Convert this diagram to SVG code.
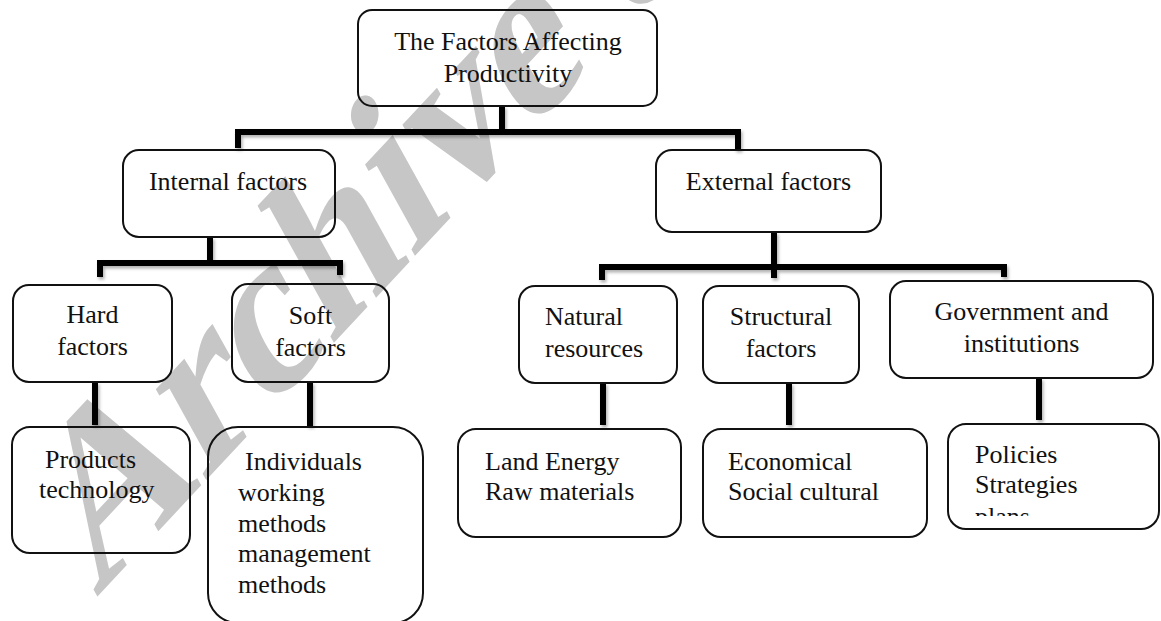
<svg xmlns="http://www.w3.org/2000/svg" width="1161" height="621" viewBox="0 0 1161 621">
<style>
.box{fill:none;stroke:#111;stroke-width:2}
.t{font-size:26px;fill:#111}
.c{text-anchor:middle}
.con{fill:none;stroke:#000;stroke-width:6;stroke-linecap:butt;stroke-linejoin:miter}
.wm{font-weight:bold;font-size:215px;fill:#c6c6c6}
</style>
<defs>
<filter id="sh" filterUnits="userSpaceOnUse" x="0" y="0" width="1161" height="621">
<feDropShadow dx="1.5" dy="2.5" stdDeviation="1.5" flood-color="#000" flood-opacity="0.3"/>
</filter>
<clipPath id="clipPol"><rect x="948" y="424" width="213" height="92"/></clipPath>
</defs>
<rect width="1161" height="621" fill="#fff"/>
<g font-family="Liberation Serif, Times New Roman, serif">
<text class="wm" transform="translate(96,598) rotate(-47) skewX(-18)" textLength="960" lengthAdjust="spacingAndGlyphs">Archive of</text>
<g id="connectors" filter="url(#sh)">
<path class="con" d="M502,106 V132 M238,148 V132 H738 V150"/>
<path class="con" d="M210,237 V263 M100,277 V263 H340 V275"/>
<path class="con" d="M774,232 V278 M602,280 V267 H1004 V277"/>
<path class="con" d="M95,382 V425"/>
<path class="con" d="M310,382 V426"/>
<path class="con" d="M603,383 V425"/>
<path class="con" d="M789,383 V425"/>
<path class="con" d="M1039,378 V420"/>
</g>
<g id="root">
<rect class="box" x="358" y="10" width="299" height="96" rx="14"/>
<text class="t c" x="508" y="50">The Factors Affecting</text>
<text class="t c" x="508" y="82">Productivity</text>
</g>
<g id="internal">
<rect class="box" x="123" y="150" width="212" height="87" rx="16"/>
<text class="t c" x="228" y="190">Internal factors</text>
</g>
<g id="external">
<rect class="box" x="656" y="150" width="225" height="82" rx="16"/>
<text class="t c" x="768.5" y="190">External factors</text>
</g>
<g id="hard">
<rect class="box" x="13" y="285" width="159" height="97" rx="16"/>
<text class="t c" x="92.5" y="323">Hard</text>
<text class="t c" x="92.5" y="355">factors</text>
</g>
<g id="soft">
<rect class="box" x="232" y="284" width="157" height="98" rx="16"/>
<text class="t c" x="310.5" y="324">Soft</text>
<text class="t c" x="310.5" y="356">factors</text>
</g>
<g id="natural">
<rect class="box" x="519" y="286" width="158" height="97" rx="16"/>
<text class="t" x="545" y="325">Natural</text>
<text class="t" x="545" y="357">resources</text>
</g>
<g id="structural">
<rect class="box" x="703" y="286" width="156" height="97" rx="16"/>
<text class="t c" x="781" y="325">Structural</text>
<text class="t c" x="781" y="357">factors</text>
</g>
<g id="government">
<rect class="box" x="890" y="281" width="263" height="97" rx="16"/>
<text class="t c" x="1021.5" y="320">Government and</text>
<text class="t c" x="1021.5" y="352">institutions</text>
</g>
<g id="products">
<rect class="box" x="12" y="427" width="178" height="126" rx="18"/>
<text class="t" x="45" y="468">Products</text>
<text class="t" x="39" y="498">technology</text>
</g>
<g id="individuals">
<rect class="box" x="208" y="427" width="215" height="196" rx="30"/>
<text class="t" x="245" y="470">Individuals</text>
<text class="t" x="238" y="501">working</text>
<text class="t" x="238" y="532">methods</text>
<text class="t" x="238" y="562">management</text>
<text class="t" x="238" y="593">methods</text>
</g>
<g id="land">
<rect class="box" x="458" y="429" width="223" height="108" rx="18"/>
<text class="t" x="485" y="470">Land Energy</text>
<text class="t" x="485" y="500">Raw materials</text>
</g>
<g id="economical">
<rect class="box" x="703" y="429" width="224" height="108" rx="18"/>
<text class="t" x="728" y="470">Economical</text>
<text class="t" x="728" y="500">Social cultural</text>
</g>
<g id="policies">
<rect class="box" x="948" y="424" width="211" height="105" rx="18"/>
<text class="t" x="975" y="463">Policies</text>
<text class="t" x="975" y="493">Strategies</text>
<text class="t" x="975" y="525" clip-path="url(#clipPol)">plans</text>
</g>
</g>
</svg>
